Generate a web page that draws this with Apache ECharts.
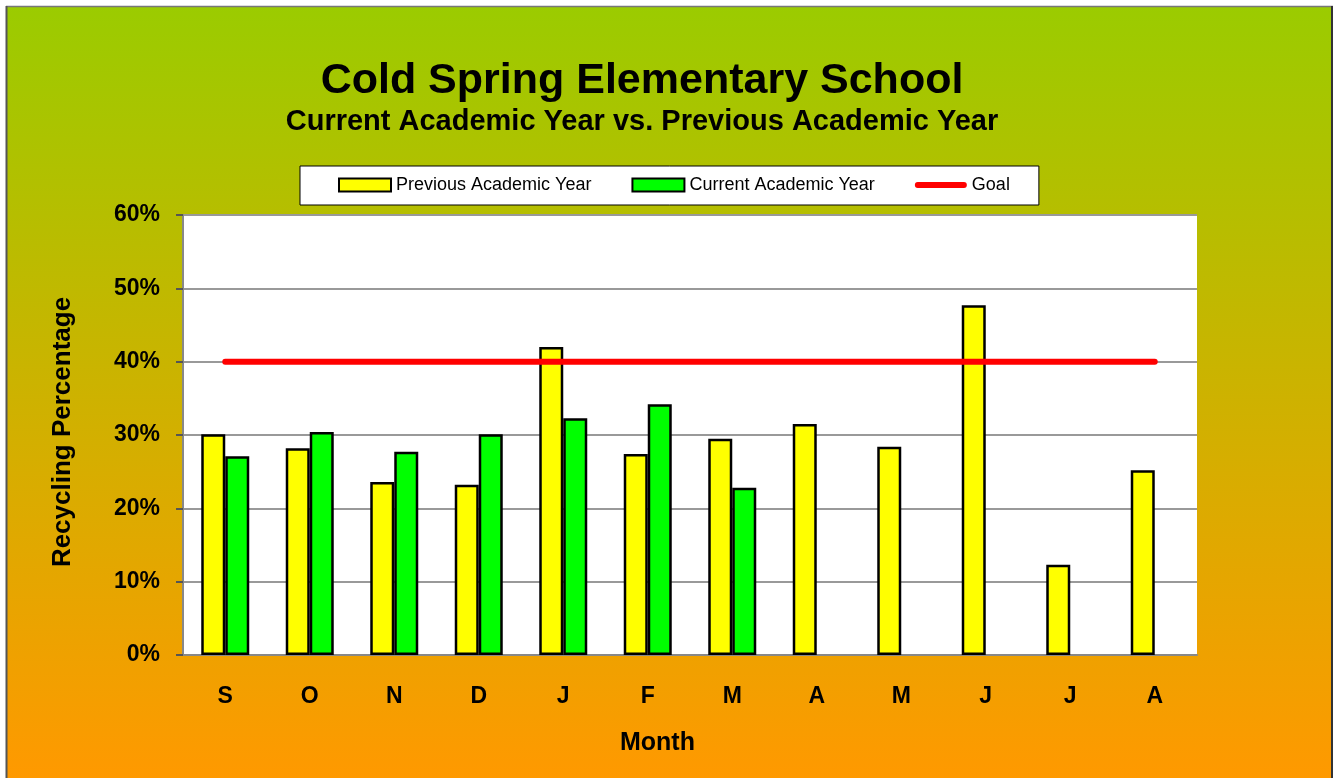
<!DOCTYPE html>
<html>
<head>
<meta charset="utf-8">
<script src="https://cdn.jsdelivr.net/npm/echarts@6/dist/echarts.min.js"></script>
<style>
html,body{margin:0;padding:0;background:#fff;}
#chart{width:1333px;height:778px;}
</style>
</head>
<body>
<div id="chart"></div>
<script>
const months = ['S','O','N','D','J','F','M','A','M','J','J','A'];
const previousYear = [30.1, 28.2, 23.6, 23.2, 42.0, 27.4, 29.5, 31.5, 28.4, 47.7, 12.3, 25.2];
const currentYear = [27.1, 30.4, 27.7, 30.1, 32.3, 34.2, 22.8, null, null, null, null, null];
const goal = [40, 40, 40, 40, 40, 40, 40, 40, 40, 40, 40, 40];
const yTicks = [0, 10, 20, 30, 40, 50, 60];

const FONT = 'Liberation Sans, Arial, sans-serif';

const chart = echarts.init(document.getElementById('chart'), null, {renderer: 'canvas'});
chart.setOption({
  animation: false,
  backgroundColor: {
    type: 'linear', x: 0, y: 0, x2: 0, y2: 1,
    colorStops: [{offset: 0, color: '#9acc00'}, {offset: 1, color: '#ff9900'}]
  },
  title: [
    {text: 'Cold Spring Elementary School', left: 637, top: 55, textAlign: 'center',
     textStyle: {fontFamily: FONT, fontWeight: 'bold', fontSize: 43, color: '#000'}},
    {text: 'Current Academic Year vs. Previous Academic Year', left: 637, top: 102, textAlign: 'center',
     textStyle: {fontFamily: FONT, fontWeight: 'bold', fontSize: 29, color: '#000'}}
  ],
  legend: {
    left: 300, top: 166,
    backgroundColor: '#fff', borderColor: '#000', borderWidth: 1,
    padding: [10, 29, 11, 38],
    itemWidth: 52, itemHeight: 13, itemGap: 40,
    textStyle: {fontFamily: FONT, fontSize: 18, color: '#000'},
    data: [
      {name: 'Previous Academic Year', icon: 'rect'},
      {name: 'Current Academic Year', icon: 'rect'},
      {name: 'Goal', icon: 'path://M3,0 L51,0 A3,3 0 0 1 51,6 L3,6 A3,3 0 0 1 3,0 Z',
       itemStyle: {color: '#ff0000', borderWidth: 0}}
    ]
  },
  grid: {left: 183, top: 215, width: 1014, height: 440, show: true, backgroundColor: '#fff', borderWidth: 0},
  xAxis: {
    type: 'category', data: months,
    axisLine: {show: true, lineStyle: {color: '#888', width: 2}},
    axisTick: {show: false},
    axisLabel: {margin: 30, fontFamily: FONT, fontWeight: 'bold', fontSize: 23, color: '#000'}
  },
  yAxis: {
    type: 'value', min: yTicks[0], max: yTicks[yTicks.length - 1], interval: 10,
    axisLine: {show: true, lineStyle: {color: '#888', width: 2}},
    axisTick: {show: true, length: 7, lineStyle: {color: '#555', width: 2}},
    splitLine: {show: true, lineStyle: {color: '#999', width: 2}},
    axisLabel: {margin: 23, fontFamily: FONT, fontWeight: 'bold', fontSize: 23, color: '#000', formatter: '{value}%'}
  },
  graphic: [
    {type: 'rect', shape: {x: 0, y: 0, width: 1333, height: 6}, style: {fill: '#fff'}},
    {type: 'rect', shape: {x: 0, y: 0, width: 6, height: 778}, style: {fill: '#fff'}},
    {type: 'line', shape: {x1: 6, y1: 6.5, x2: 1333, y2: 6.5}, style: {stroke: '#777', lineWidth: 1.5}},
    {type: 'line', shape: {x1: 6.5, y1: 6, x2: 6.5, y2: 778}, style: {stroke: '#555', lineWidth: 2}},
    {type: 'line', shape: {x1: 1332, y1: 6, x2: 1332, y2: 778}, style: {stroke: '#333', lineWidth: 2}},
    {type: 'text', left: 620, top: 731,
     style: {text: 'Month', font: 'bold 25px ' + FONT, fill: '#000'}},
    {type: 'text', x: 63, y: 432, rotation: Math.PI / 2,
     style: {text: 'Recycling Percentage', font: 'bold 26px ' + FONT, fill: '#000', align: 'center', verticalAlign: 'middle'}}
  ],
  series: [
    {name: 'Previous Academic Year', type: 'bar', data: previousYear, barWidth: 24, barGap: '0%',
     itemStyle: {color: '#ffff00', borderColor: '#000', borderWidth: 2.5}},
    {name: 'Current Academic Year', type: 'bar', data: currentYear, barWidth: 24, barGap: '0%',
     itemStyle: {color: '#00ff00', borderColor: '#000', borderWidth: 2.5}},
    {name: 'Goal', type: 'line', data: goal, symbol: 'none', z: 5,
     itemStyle: {color: '#ff0000'},
     lineStyle: {color: '#ff0000', width: 6, cap: 'round'}}
  ]
});
</script>
</body>
</html>
